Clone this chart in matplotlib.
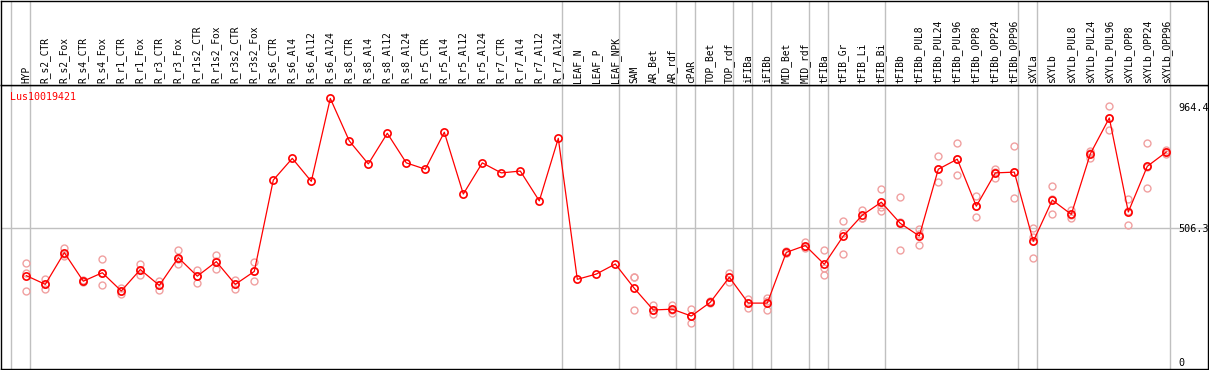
import numpy as np
import matplotlib
matplotlib.use("Agg")
import matplotlib.pyplot as plt

gene = "Lus10019421"

samples = ["HYP", "R_s2_CTR", "R_s2_Fox", "R_s4_CTR", "R_s4_Fox", "R_r1_CTR", "R_r1_Fox",
           "R_r3_CTR", "R_r3_Fox", "R_r1s2_CTR", "R_r1s2_Fox", "R_r3s2_CTR", "R_r3s2_Fox",
           "R_s6_CTR", "R_s6_Al4", "R_s6_Al12", "R_s6_Al24", "R_s8_CTR", "R_s8_Al4",
           "R_s8_Al12", "R_s8_Al24", "R_r5_CTR", "R_r5_Al4", "R_r5_Al12", "R_r5_Al24",
           "R_r7_CTR", "R_r7_Al4", "R_r7_Al12", "R_r7_Al24", "LEAF_N", "LEAF_P", "LEAF_NPK",
           "SAM", "AR_Bet", "AR_rdf", "cPAR", "TOP_Bet", "TOP_rdf", "iFIBa", "iFIBb",
           "MID_Bet", "MID_rdf", "tFIBa", "tFIB_Gr", "tFIB_Li", "tFIB_Bi", "tFIBb",
           "tFIBb_PUL8", "tFIBb_PUL24", "tFIBb_PUL96", "tFIBb_OPP8", "tFIBb_OPP24",
           "tFIBb_OPP96", "sXYLa", "sXYLb", "sXYLb_PUL8", "sXYLb_PUL24", "sXYLb_PUL96",
           "sXYLb_OPP8", "sXYLb_OPP24", "sXYLb_OPP96"]

# size of each sample group (separated by vertical lines)
group_sizes = [1, 28, 3, 3, 1, 2, 1, 1, 2, 1, 3, 7, 1, 7]

means = [327, 294, 414, 306, 338, 269, 350, 290, 395, 325, 380, 294, 343,
         689, 771, 684, 998, 837, 750, 866, 754, 730, 870, 636, 754, 716, 723, 610, 847,
         313, 333, 371,
         279, 197, 200, 174, 226, 321, 223, 223, 415, 441, 370, 477, 556, 605, 525,
         477, 730, 768, 590, 716, 719,
         457, 613, 559, 788, 924, 568, 741, 795]

# individual replicates (empty where not shown)
replicates = [[374, 336, 268], [314, 275, 294], [433, 401, 408], [310, 302, 305],
              [389, 290, 336], [280, 256, 270], [372, 329, 347], [308, 273, 291],
              [424, 370, 391], [350, 298, 326], [405, 353, 381], [311, 276, 296],
              [380, 306, 345],
              [], [], [], [], [], [], [], [], [], [], [], [], [], [], [], [],
              [], [], [],
              [321, 197, 320], [215, 181, 196], [215, 187, 197], [200, 149, 174],
              [230, 222, 226], [338, 303, 321], [240, 206, 225], [242, 198, 230],
              [420, 412, 414], [456, 431, 436], [423, 331, 356], [533, 409, 487],
              [576, 545, 546], [654, 573, 587], [624, 423, 529],
              [505, 442, 485], [779, 680, 730], [828, 707, 768], [627, 549, 592],
              [732, 697, 718], [818, 620, 721],
              [506, 393, 472], [665, 559, 616], [577, 546, 555], [800, 772, 790],
              [969, 878, 924], [616, 518, 570], [828, 658, 737], [804, 787, 795]]

ytick_vals = [0, 506.3, 964.4]

W, H = 1209, 370
red = "#ff0000"
pink = "#f0a0a0"
grid_c = "#c0c0c0"
mono = "DejaVu Sans Mono"

fig = plt.figure(figsize=(W / 100, H / 100), dpi=100)
ax = fig.add_axes([1 / W, 1 / H, 1207 / W, 284 / H])
ax_lab = fig.add_axes([1 / W, 285 / H, 1207 / W, 84.5 / H], sharex=ax)

x = np.arange(len(samples))
ax.set_xlim((1 - 26.3) / 19, (1208 - 26.3) / 19)
ax.set_ylim((362 - 369) / 0.2641, (362 - 85) / 0.2641)
ax_lab.set_ylim(0, 1)

# group separators
bounds = np.concatenate([[-1], np.cumsum(group_sizes) - 1]) + 0.21
for a in (ax, ax_lab):
    for b in bounds:
        a.axvline(b, color=grid_c, lw=1, zorder=0)
    for s in a.spines.values():
        s.set_color("black")
        s.set_linewidth(1.0)
    a.tick_params(axis="x", bottom=False, labelbottom=False)
ax_lab.set_yticks([])
ax.axhline(ytick_vals[1], color=grid_c, lw=1, zorder=0)

# sample labels
for xi, name in zip(x, samples):
    ax_lab.text(xi, 0.025, name, rotation=90, ha="center", va="bottom",
                fontsize=6.9, family=mono, color="black")

# replicates
for xi, reps in zip(x, replicates):
    if reps:
        ax.plot([xi] * len(reps), reps, "o", ms=5, mfc="none", mec=pink, mew=1, zorder=2)

ax.plot(x, means, "-", color=red, lw=0.9, zorder=3)
ax.plot(x, means, "o", ms=5.2, mfc="none", mec=red, mew=1.2, zorder=4)

ax.text(9 / 1207, 1 - 12 / 284, gene, transform=ax.transAxes, color=red,
        fontsize=7.2, family=mono, ha="left", va="center")

ax.yaxis.tick_right()
ax.set_yticks(ytick_vals)
ax.set_yticklabels([f"{v:g}" for v in ytick_vals], family=mono, fontsize=7.3)
ax.tick_params(axis="y", length=0, pad=-21.6)
for lab in ax.get_yticklabels():
    lab.set_horizontalalignment("left")

fig.savefig("out.png", dpi=100)
